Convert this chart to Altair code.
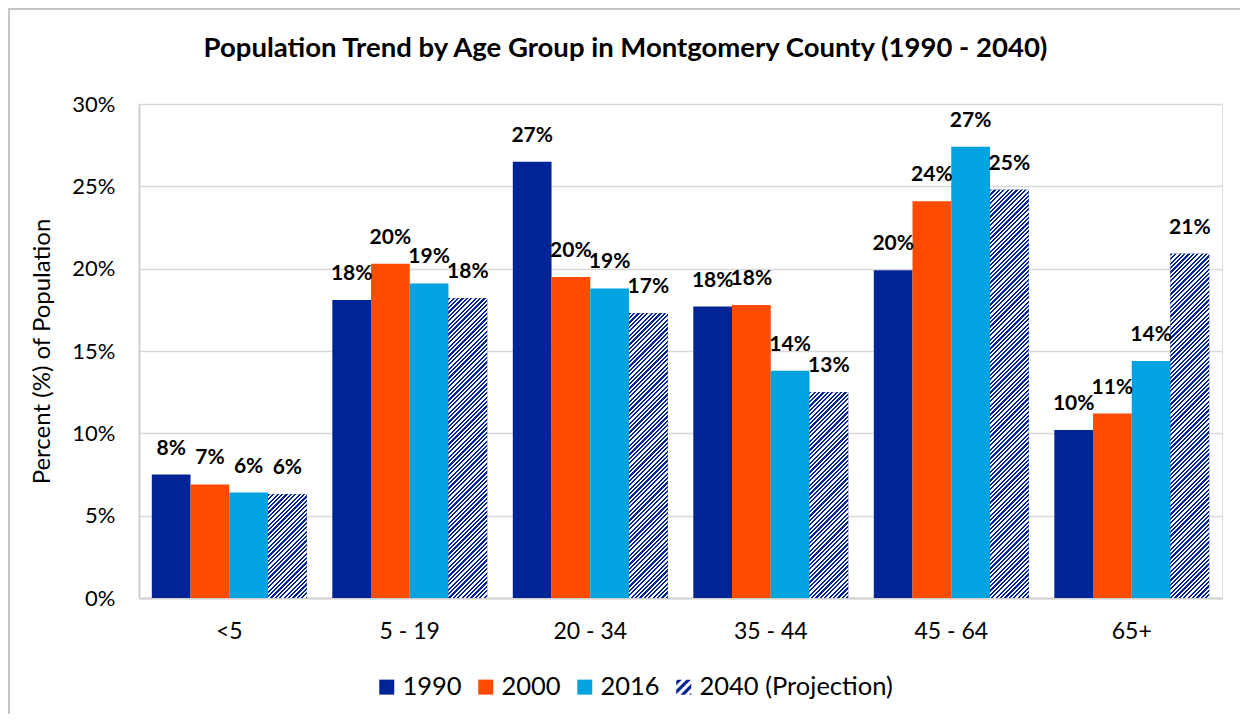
import math
import altair as alt
import pandas as pd

# ---------------- data ----------------
ages = ["<5", "5 - 19", "20 - 34", "35 - 44", "45 - 64", "65+"]
years = ["1990", "2000", "2016", "2040 (Projection)"]
v1990 = [7.5, 18.1, 26.5, 17.7, 19.9, 10.2]
v2000 = [6.9, 20.3, 19.5, 17.8, 24.1, 11.2]
v2016 = [6.4, 19.1, 18.8, 13.8, 27.4, 14.4]
v2040 = [6.3, 18.2, 17.3, 12.5, 24.8, 20.9]
y_ticks = [0, 5, 10, 15, 20, 25, 30]

BLUE = "#002395"
colors = [BLUE, "#FF4B00", "#00A2E0", BLUE]

rows = []
for yr, vals in zip(years, [v1990, v2000, v2016, v2040]):
    for a, v in zip(ages, vals):
        rows.append({"age": a, "year": yr, "value": v,
                     "label": f"{int(math.floor(v + 0.5))}%"})
df = pd.DataFrame(rows)

# ---------------- layout ----------------
W, H = 1083, 494
YMAX = 30
PI, PO = 0.142, 0.071
FONT = "Lato"
step = W / (len(ages) - PI + 2 * PO)
bar_w = step * (1 - PI) / len(years)


def hatch_gradient(v, period=4.4):
    """Diagonal '/' stripes as a hard-stop linear gradient for a bar of value v."""
    h = v / YMAX * H
    w = bar_w
    L = w + h
    k = L / (w * w + h * h)
    stops = []
    n = math.ceil(L / period)
    for i in range(n):
        o0 = round(min(i * period / L, 1), 5)
        o1 = round(min((i + 0.5) * period / L, 1), 5)
        o2 = round(min((i + 1) * period / L, 1), 5)
        stops += [{"offset": o0, "color": BLUE}, {"offset": o1, "color": BLUE},
                  {"offset": o1, "color": "white"}, {"offset": o2, "color": "white"}]
    return {"gradient": "linear", "x1": 0, "y1": 0,
            "x2": round(k * w, 6), "y2": round(k * h, 6), "stops": stops}


def clip(poly, a, b, c):
    out = []
    n = len(poly)
    for i in range(n):
        p, q = poly[i], poly[(i + 1) % n]
        fp = a * p[0] + b * p[1] - c
        fq = a * q[0] + b * q[1] - c
        if fp <= 0:
            out.append(p)
        if (fp < 0 < fq) or (fq < 0 < fp):
            t = fp / (fp - fq)
            out.append((p[0] + t * (q[0] - p[0]), p[1] + t * (q[1] - p[1])))
    return out


def hatch_path(period=1.2, width=0.6):
    sq = [(-1, -1), (1, -1), (1, 1), (-1, 1)]
    parts = []
    lo = -2.0 + 0.15
    while lo < 2:
        hi = lo + width
        poly = clip(sq, 1, 1, hi)
        poly = clip(poly, -1, -1, -lo)
        if len(poly) >= 3:
            parts.append("M" + "L".join(f"{x:.3f},{y:.3f}" for x, y in poly) + "Z")
        lo += period
    return "".join(parts)


shapes = ["square", "square", "square", hatch_path()]

x_enc = alt.X("age:N", sort=ages,
              scale=alt.Scale(paddingInner=PI, paddingOuter=PO),
              axis=alt.Axis(title=None, labelAngle=0, ticks=False, labelPadding=22,
                            labelFontSize=23, labelFont=FONT, labelColor="black",
                            domainColor="#D0D0D0", domainWidth=2, grid=False))
xo_enc = alt.XOffset("year:N", sort=years,
                     scale=alt.Scale(domain=years, paddingInner=0, paddingOuter=0))
y_axis = alt.Axis(values=y_ticks, labelExpr="datum.value + '%'",
                  title="Percent (%) of Population", titleFontSize=24, titleFont=FONT,
                  titleFontWeight="normal", titleColor="black", titleX=-97, titleY=H / 2,
                  titleAlign="center", titleBaseline="middle",
                  labelFontSize=22, labelFont=FONT, labelColor="black", labelPadding=24,
                  ticks=False, grid=True, gridColor="#D9D9D9", gridWidth=1.5,
                  domainColor="#D0D0D0", domainWidth=2)
y_scale = alt.Scale(domain=[0, YMAX], nice=False)

leg = alt.Legend(title=None, orient="none", legendX=235, legendY=570,
                 direction="horizontal", symbolSize=225, symbolStrokeWidth=0,
                 labelFontSize=25.5, labelFont=FONT, labelColor="black", labelLimit=400,
                 columnPadding=11, labelOffset=3)

base = alt.Chart(df)

points = base.transform_calculate(half="datum.value / 2").mark_point(
    filled=True, size=225, opacity=1
).encode(
    x=x_enc, xOffset=xo_enc,
    y=alt.Y("half:Q", scale=y_scale, axis=y_axis),
    color=alt.Color("year:N", sort=years, scale=alt.Scale(domain=years, range=colors), legend=leg),
    shape=alt.Shape("year:N", sort=years, scale=alt.Scale(domain=years, range=shapes), legend=leg),
)

bars = base.mark_bar().encode(
    x=x_enc, xOffset=xo_enc,
    y=alt.Y("value:Q", scale=y_scale, axis=y_axis),
    fill=alt.Fill("year:N", sort=years, scale=alt.Scale(domain=years, range=colors), legend=None),
)

fill_cond = {
    "condition": [{"test": f"datum.age === '{a}'", "value": hatch_gradient(v)}
                  for a, v in zip(ages, v2040)],
    "value": BLUE,
}
hatch = base.transform_filter(alt.datum.year == years[3]).mark_bar().encode(
    x=x_enc, xOffset=xo_enc,
    y=alt.Y("value:Q", scale=y_scale, axis=y_axis),
    fill=fill_cond,
)

labels = base.mark_text(fontWeight="bold", fontSize=21, font=FONT, baseline="middle",
                        dy=-26, color="black").encode(
    x=x_enc, xOffset=xo_enc,
    y=alt.Y("value:Q", scale=y_scale, axis=y_axis),
    text="label:N",
)

border_df = pd.DataFrame({"k": [0]})
border_left = alt.Chart(border_df).mark_rule(color="#C4C4C4", strokeWidth=2).encode(
    x=alt.value(-130), y=alt.value(-96), y2=alt.value(H + 116))
border_top = alt.Chart(border_df).mark_rule(color="#C4C4C4", strokeWidth=2).encode(
    x=alt.value(-131), x2=alt.value(W + 18), y=alt.value(-95))

chart = alt.layer(points, bars, hatch, labels, border_left, border_top).properties(
    width=W, height=H,
    autosize=alt.AutoSizeParams(type="none"),
    padding={"left": 131, "top": 96, "right": 18, "bottom": 116},
    title=alt.TitleParams("Population Trend by Age Group in Montgomery County (1990 - 2040)",
                          font=FONT, fontSize=27.5, fontWeight="bold", color="black",
                          anchor="middle", dx=-55, offset=-55),
).configure_view(stroke=None).configure(background="white")

chart.save("out.html", embed_options={"renderer": "svg", "actions": False})
